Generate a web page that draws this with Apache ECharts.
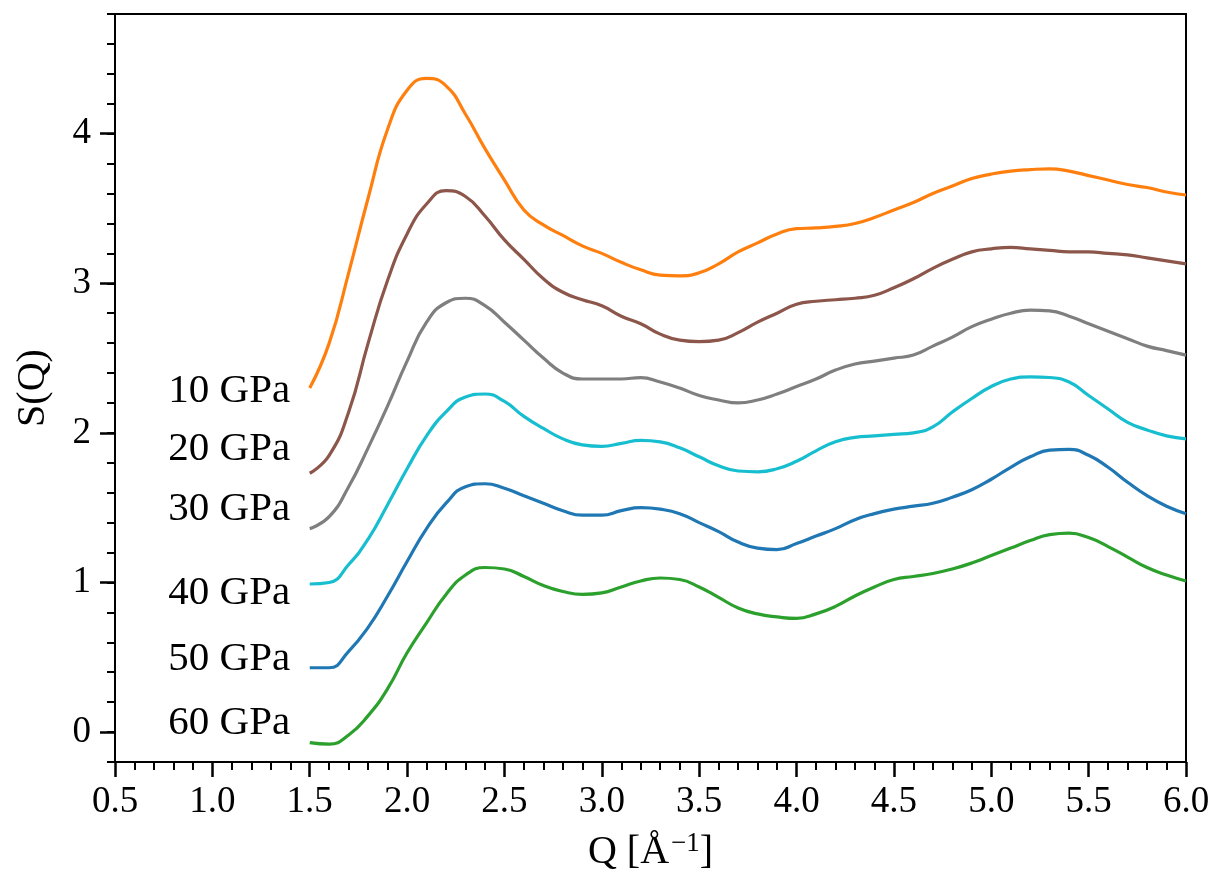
<!DOCTYPE html>
<html>
<head>
<meta charset="utf-8">
<script src="https://cdn.jsdelivr.net/npm/echarts@6/dist/echarts.min.js"></script>
<style>
  html, body { margin: 0; padding: 0; background: #fff; }
  #chart { width: 1221px; height: 887px; }
</style>
</head>
<body>
<div id="chart"></div>
<script>
  // Q grid [1/Å]
  var q = [1.5, 1.6, 1.7, 1.8, 1.9, 2.0, 2.1, 2.2, 2.3, 2.4, 2.5, 2.6, 2.7, 2.8, 2.9, 3.0,
           3.1, 3.2, 3.3, 3.4, 3.5, 3.6, 3.7, 3.8, 3.9, 4.0, 4.1, 4.2, 4.3, 4.4, 4.5,
           4.6, 4.7, 4.8, 4.9, 5.0, 5.1, 5.2, 5.3, 5.4, 5.5, 5.6, 5.7, 5.8, 5.9, 6.0];

  // S(Q), curves shifted vertically
  var s10 = [2.30, 2.60, 3.07, 3.57, 4.03, 4.29, 4.37, 4.32, 4.13, 3.90, 3.69, 3.49, 3.39, 3.32, 3.25, 3.20,
             3.14, 3.09, 3.055, 3.05, 3.07, 3.13, 3.21, 3.27, 3.33, 3.365, 3.37, 3.38, 3.40, 3.44, 3.49,
             3.54, 3.60, 3.65, 3.70, 3.73, 3.75, 3.76, 3.765, 3.75, 3.72, 3.69, 3.66, 3.64, 3.61, 3.59];
  var s20 = [1.73, 1.85, 2.14, 2.60, 3.02, 3.33, 3.53, 3.62, 3.58, 3.45, 3.29, 3.16, 3.03, 2.94, 2.89, 2.85,
             2.78, 2.73, 2.66, 2.62, 2.61, 2.62, 2.67, 2.74, 2.80, 2.86, 2.88, 2.89, 2.90, 2.92, 2.97,
             3.03, 3.10, 3.16, 3.21, 3.23, 3.24, 3.23, 3.22, 3.21, 3.21, 3.20, 3.19, 3.17, 3.15, 3.13];
  var s30 = [1.36, 1.44, 1.64, 1.90, 2.18, 2.48, 2.74, 2.87, 2.90, 2.85, 2.74, 2.62, 2.50, 2.40, 2.36, 2.36,
             2.36, 2.37, 2.34, 2.30, 2.25, 2.22, 2.20, 2.22, 2.26, 2.31, 2.36, 2.42, 2.46, 2.48, 2.50,
             2.52, 2.58, 2.64, 2.71, 2.76, 2.80, 2.82, 2.815, 2.78, 2.73, 2.68, 2.63, 2.58, 2.55, 2.52];
  var s40 = [0.99, 1.00, 1.12, 1.29, 1.52, 1.76, 1.98, 2.14, 2.24, 2.26, 2.21, 2.11, 2.03, 1.96, 1.92, 1.91,
             1.93, 1.95, 1.94, 1.90, 1.84, 1.78, 1.745, 1.74, 1.76, 1.81, 1.88, 1.94, 1.97, 1.98, 1.99,
             2.00, 2.04, 2.14, 2.23, 2.31, 2.36, 2.375, 2.37, 2.34, 2.25, 2.16, 2.07, 2.02, 1.98, 1.96];
  var s50 = [0.43, 0.43, 0.54, 0.70, 0.91, 1.14, 1.36, 1.53, 1.64, 1.66, 1.63, 1.58, 1.53, 1.48, 1.45, 1.45,
             1.48, 1.50, 1.49, 1.46, 1.40, 1.34, 1.27, 1.23, 1.22, 1.26, 1.31, 1.36, 1.42, 1.46, 1.49,
             1.51, 1.53, 1.57, 1.62, 1.69, 1.77, 1.84, 1.885, 1.89, 1.85, 1.77, 1.67, 1.58, 1.51, 1.46];
  var s60 = [-0.07, -0.08, -0.02, 0.11, 0.29, 0.53, 0.73, 0.92, 1.05, 1.10, 1.09, 1.04, 0.98, 0.94, 0.92, 0.93,
             0.97, 1.01, 1.03, 1.02, 0.97, 0.90, 0.83, 0.79, 0.77, 0.76, 0.79, 0.84, 0.91, 0.97, 1.02,
             1.04, 1.06, 1.09, 1.13, 1.18, 1.23, 1.28, 1.32, 1.33, 1.30, 1.24, 1.17, 1.10, 1.05, 1.01];

  var pressures = ['10 GPa', '20 GPa', '30 GPa', '40 GPa', '50 GPa', '60 GPa'];
  var labelY = [2.28, 1.89, 1.49, 0.93, 0.49, 0.06];
  var colors = ['#ff7f0e', '#8c564b', '#7f7f7f', '#17becf', '#1f77b4', '#2ca02c'];
  var yTicks = [0, 1, 2, 3, 4];

  var font = 'Liberation Serif, Times New Roman, serif';
  var allS = [s10, s20, s30, s40, s50, s60];

  var series = allS.map(function (s, i) {
    return {
      name: pressures[i],
      type: 'line',
      data: q.map(function (x, k) { return [x, s[k]]; }),
      smooth: 0.5,
      showSymbol: false,
      lineStyle: { color: colors[i], width: 3.2 },
      z: 3
    };
  });

  // pressure labels on the left of each curve
  series.push({
    type: 'scatter',
    symbolSize: 0,
    silent: true,
    itemStyle: { opacity: 1 },
    data: pressures.map(function (p, i) { return { name: p, value: [1.42, labelY[i]] }; }),
    label: {
      show: true,
      position: 'left',
      distance: 4,
      formatter: '{b}',
      color: '#000',
      fontFamily: font,
      fontSize: 41
    }
  });

  var chart = echarts.init(document.getElementById('chart'));
  chart.setOption({
    animation: false,
    backgroundColor: '#fff',
    grid: {
      left: 115, right: 35, top: 14, bottom: 125,
      show: true, borderColor: '#000', borderWidth: 2, backgroundColor: 'transparent'
    },
    xAxis: {
      type: 'value',
      min: 0.5, max: 6.0, interval: 0.5,
      name: 'Q [Å{sup|−1}]',
      nameLocation: 'middle',
      nameGap: 68,
      nameTextStyle: {
        color: '#000', fontFamily: font, fontSize: 40,
        rich: { sup: { fontFamily: font, fontSize: 27, verticalAlign: 'top', padding: [0, 0, 18, 2], color: '#000' } }
      },
      axisLine: { onZero: false, lineStyle: { color: '#000', width: 2 } },
      axisTick: { length: 15, lineStyle: { color: '#000', width: 2.5 } },
      minorTick: { show: true, splitNumber: 5, length: 8, lineStyle: { color: '#000', width: 2 } },
      splitLine: { show: false },
      axisLabel: {
        margin: 22, color: '#000', fontFamily: font, fontSize: 37,
        formatter: function (v) { return v.toFixed(1); }
      }
    },
    yAxis: [{
      type: 'value',
      min: -0.2, max: 4.8,
      name: 'S(Q)',
      nameLocation: 'middle',
      nameGap: 62,
      nameTextStyle: { color: '#000', fontFamily: font, fontSize: 40 },
      axisLine: { onZero: false, lineStyle: { color: '#000', width: 2 } },
      axisTick: { customValues: yTicks, length: 15, lineStyle: { color: '#000', width: 2.5 } },
      splitLine: { show: false },
      axisLabel: { customValues: yTicks, margin: 24, color: '#000', fontFamily: font, fontSize: 37 }
    }, {
      // minor ticks every 0.2
      type: 'value',
      position: 'left',
      min: -0.2, max: 4.8, interval: 0.2,
      axisLine: { show: false, onZero: false },
      axisTick: { show: true, length: 8, lineStyle: { color: '#000', width: 2 } },
      axisLabel: { show: false },
      splitLine: { show: false }
    }],
    series: series
  });
  window.addEventListener('resize', chart.resize);
</script>
</body>
</html>
